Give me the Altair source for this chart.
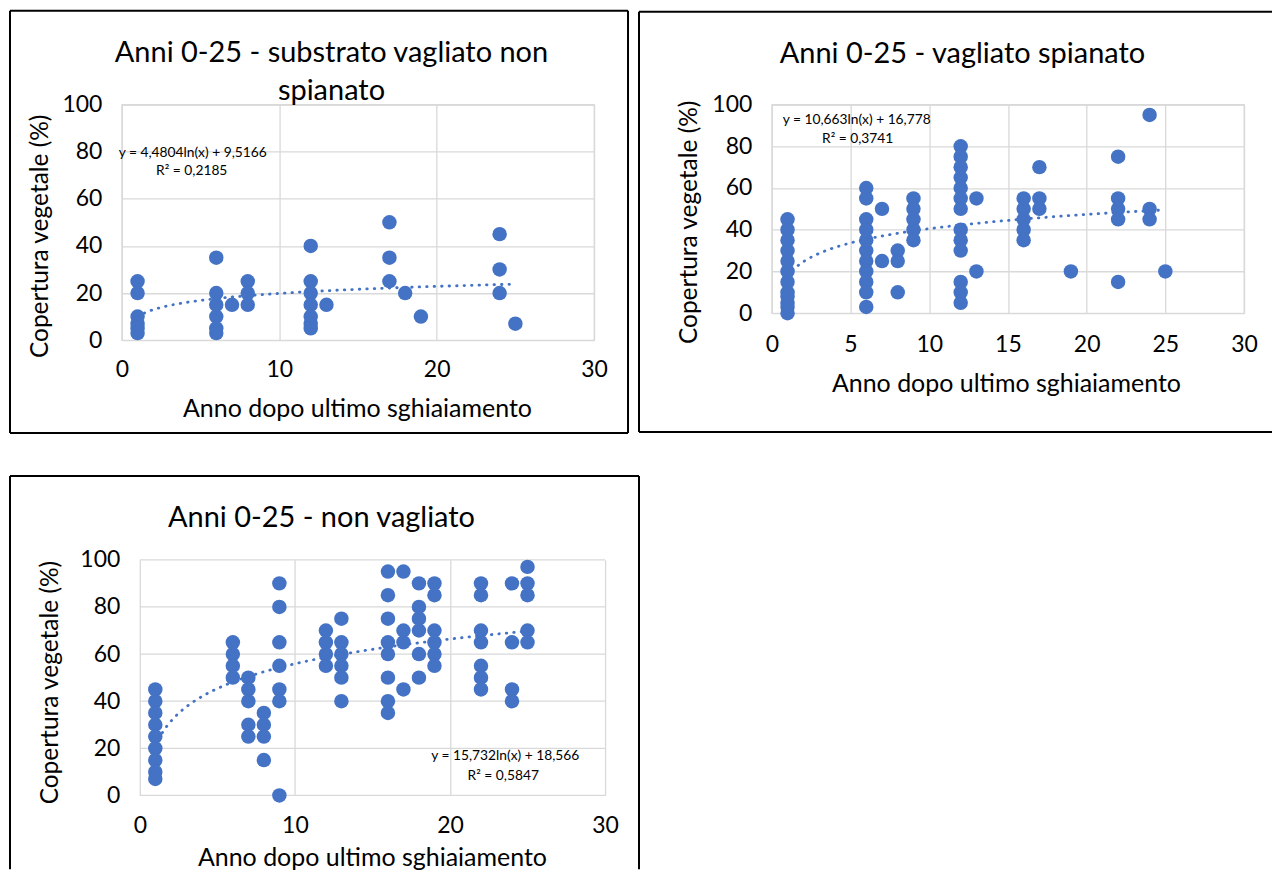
import altair as alt
import pandas as pd

BLUE = "#4472C4"
GRID = "#d9d9d9"
FONT = "Lato"

# ---- Panel 1: substrato vagliato non spianato ----
p1_x = [1, 1, 1, 1, 1, 1,
        6, 6, 6, 6, 6, 6,
        7,
        8, 8, 8,
        12, 12, 12, 12, 12, 12, 12,
        13,
        17, 17, 17,
        18,
        19,
        24, 24, 24,
        25]
p1_y = [25, 20, 10, 7, 5, 3,
        35, 20, 15, 10, 5, 3,
        15,
        25, 20, 15,
        40, 25, 20, 15, 10, 7, 5,
        15,
        50, 35, 25,
        20,
        10,
        45, 30, 20,
        7]

# ---- Panel 2: vagliato spianato ----
p2_x = [1, 1, 1, 1, 1, 1, 1, 1, 1, 1, 1, 1,
        6, 6, 6, 6, 6, 6, 6, 6, 6, 6, 6,
        7, 7,
        8, 8, 8,
        9, 9, 9, 9, 9,
        12, 12, 12, 12, 12, 12, 12, 12, 12, 12, 12, 12, 12,
        13, 13,
        16, 16, 16, 16, 16,
        17, 17, 17,
        19,
        22, 22, 22, 22, 22,
        24, 24, 24,
        25]
p2_y = [45, 40, 35, 30, 25, 20, 15, 10, 8, 5, 3, 0,
        60, 55, 45, 40, 35, 30, 25, 20, 15, 10, 3,
        50, 25,
        30, 25, 10,
        55, 50, 45, 40, 35,
        80, 75, 70, 65, 60, 55, 50, 40, 35, 30, 15, 10, 5,
        55, 20,
        55, 50, 45, 40, 35,
        70, 55, 50,
        20,
        75, 55, 50, 45, 15,
        95, 50, 45,
        20]

# ---- Panel 3: non vagliato ----
p3_x = [1, 1, 1, 1, 1, 1, 1, 1, 1,
        6, 6, 6, 6,
        7, 7, 7, 7, 7,
        8, 8, 8, 8,
        9, 9, 9, 9, 9, 9, 9,
        12, 12, 12, 12,
        13, 13, 13, 13, 13, 13,
        16, 16, 16, 16, 16, 16, 16, 16,
        17, 17, 17, 17,
        18, 18, 18, 18, 18, 18,
        19, 19, 19, 19, 19, 19,
        22, 22, 22, 22, 22, 22, 22,
        24, 24, 24, 24,
        25, 25, 25, 25, 25]
p3_y = [45, 40, 35, 30, 25, 20, 15, 10, 7,
        65, 60, 55, 50,
        50, 45, 40, 30, 25,
        35, 30, 25, 15,
        90, 80, 65, 55, 45, 40, 0,
        70, 65, 60, 55,
        75, 65, 60, 55, 50, 40,
        95, 85, 75, 65, 60, 50, 40, 35,
        95, 70, 65, 45,
        90, 80, 75, 70, 60, 50,
        90, 85, 70, 65, 60, 55,
        90, 85, 70, 65, 55, 50, 45,
        90, 65, 45, 40,
        97, 90, 85, 70, 65]

titles = {
    "p1": ["Anni 0-25 - substrato vagliato non", "spianato"],
    "p2": ["Anni 0-25 - vagliato spianato"],
    "p3": ["Anni 0-25 - non vagliato"],
}
equations = {
    "p1": ["y = 4,4804ln(x) + 9,5166", "R² = 0,2185"],
    "p2": ["y = 10,663ln(x) + 16,778", "R² = 0,3741"],
    "p3": ["y = 15,732ln(x) + 18,566", "R² = 0,5847"],
}
x_title = "Anno dopo ultimo sghiaiamento"
y_title = "Copertura vegetale (%)"
x_ticks = {"p1": [0, 10, 20, 30], "p2": [0, 5, 10, 15, 20, 25, 30], "p3": [0, 10, 20, 30]}
y_ticks = [0, 20, 40, 60, 80, 100]

one = pd.DataFrame({"k": [0]})


def txt(s, x, y, size, angle=None):
    kw = dict(font=FONT, fontSize=size, color="#000000", align="center", baseline="middle")
    if angle is not None:
        kw["angle"] = angle
    return alt.Chart(one).mark_text(**kw).encode(
        x=alt.value(x), y=alt.value(y), text=alt.value(s))


def hrule(x1, x2, y):
    return alt.Chart(one).mark_rule(color="#000000", strokeWidth=2).encode(
        x=alt.value(x1), x2=alt.value(x2), y=alt.value(y))


def vrule(x, y1, y2):
    return alt.Chart(one).mark_rule(color="#000000", strokeWidth=2).encode(
        x=alt.value(x), y=alt.value(y1), y2=alt.value(y2))


def panel(xs, ys, W, H, key, xpad, title_pos, eq_pos, yt_pos, xt_pos, box, shift=0):
    """shift: offset of the data rectangle inside the view (px)."""
    df = pd.DataFrame({"x": xs, "y": ys})
    if shift:
        xscale = alt.Scale(domain=[0, 30], nice=False, zero=False, range=[shift, shift + W])
    else:
        xscale = alt.Scale(domain=[0, 30], nice=False, zero=False)
    yscale = alt.Scale(domain=[0, 100], nice=False)
    xaxis = alt.Axis(values=x_ticks[key], title=None, labelPadding=xpad, labelFlush=False,
                     labelOverlap=False)
    yaxis = alt.Axis(values=y_ticks, title=None, labelPadding=max(20 - shift, 1),
                     labelOverlap=False, grid=(shift == 0))
    base = alt.Chart(df)
    layers = []
    if shift:
        ygrid = alt.Chart(pd.DataFrame({"g": y_ticks})).mark_rule(
            color=GRID, strokeWidth=1.3).encode(
            y=alt.Y("g:Q", scale=yscale, axis=yaxis),
            x=alt.value(shift), x2=alt.value(shift + W))
        layers.append(ygrid)
    pts = base.mark_circle(size=210, opacity=1, color=BLUE).encode(
        x=alt.X("x:Q", scale=xscale, axis=xaxis),
        y=alt.Y("y:Q", scale=yscale, axis=yaxis))
    trend = base.transform_regression("x", "y", method="log", extent=[1, 25]).mark_line(
        color=BLUE, strokeWidth=2.8, strokeDash=[0.5, 7], strokeCap="round").encode(
        x=alt.X("x:Q", scale=xscale), y=alt.Y("y:Q", scale=yscale))
    layers += [pts, trend]
    for s, (tx, ty) in zip(titles[key], title_pos):
        layers.append(txt(s, tx + shift, ty, 29))
    for s, (ex, ey) in zip(equations[key], eq_pos):
        layers.append(txt(s, ex + shift, ey, 13.8))
    layers.append(txt(y_title, yt_pos[0] + shift, yt_pos[1], 24.5, angle=270))
    layers.append(txt(x_title, xt_pos[0] + shift, xt_pos[1], 25))
    L, R, T, B, edges = box
    if "t" in edges:
        layers.append(hrule(L + shift, R + shift, T))
    if "b" in edges:
        layers.append(hrule(L + shift, R + shift, B))
    if "l" in edges:
        layers.append(vrule(L + shift, T, B))
    if "r" in edges:
        layers.append(vrule(R + shift, T, B))
    ch = alt.layer(*layers).properties(width=W + shift, height=H)
    if shift:
        ch = ch.properties(view=alt.ViewBackground(stroke="transparent"))
    return ch


# panel 1: plot 473 x 236
c1 = panel(p1_x, p1_y, 473, 236, "p1", 18,
           [(210, -52), (210, -14)], [(71, 49), (70, 67)], (-81, 132), (236, 305),
           (-112, 507, -94, 329, "tblr"))

# panel 2: plot 473 x 209
c2 = panel(p2_x, p2_y, 473, 209, "p2", 20,
           [(191, -51)], [(85, 15), (86, 35)], (-82, 118), (235, 280),
           (-133, 501, -93, 328, "tbl"))

# panel 3: plot 466 x 236, data rectangle shifted 18px right inside its view
c3 = panel(p3_x, p3_y, 466, 236, "p3", 19,
           [(182, -42)], [(366, 197), (364, 217)], (-89, 123), (233, 299),
           (-130, 500, -84, 310, "tlr"), shift=18)

chart = alt.concat(
    c1, c2, c3,
    columns=2,
    spacing={"row": 39, "column": -4},
).properties(padding=0, background="white").configure_view(
    stroke=GRID, strokeWidth=1.3
).configure_axis(
    grid=True, gridColor=GRID, gridWidth=1.3, domain=False, ticks=False, tickSize=0,
    labelFont=FONT, labelFontSize=23, labelColor="#000000"
)

chart.save("out.html", embed_options={"renderer": "svg", "actions": False})
